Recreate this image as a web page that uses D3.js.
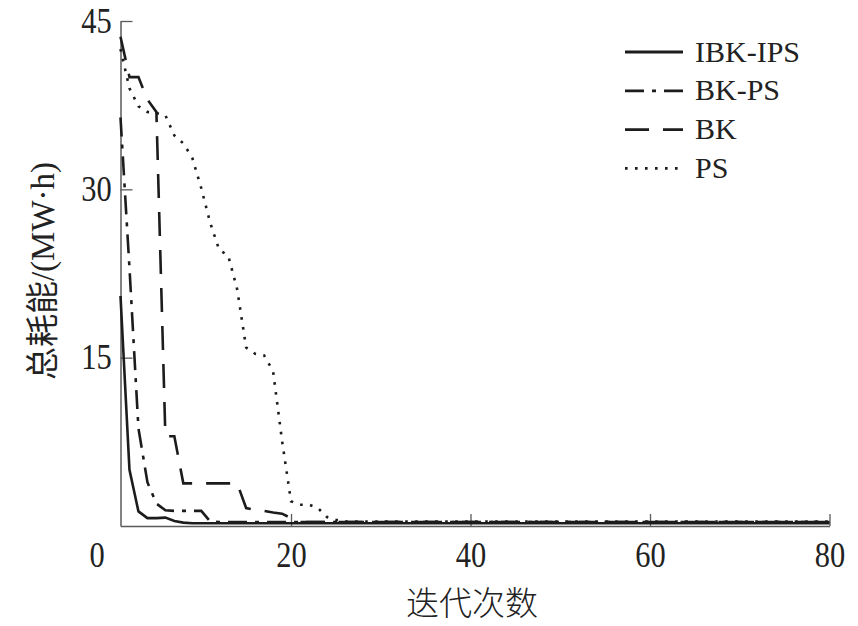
<!DOCTYPE html>
<html><head><meta charset="utf-8">
<script src="https://cdn.jsdelivr.net/npm/d3@7"></script>
<style>
html,body{margin:0;padding:0;background:#fff;}
svg{display:block;}
text{font-family:"Liberation Serif","Noto Sans CJK SC",serif;fill:#222;}
</style></head><body>
<svg id="chart" width="858" height="626"></svg>
<script>
// ---- data ----
const iterations = [1,2,3,4,5,6,7,8,9,10,11,12,13,14,15,16,17,18,19,20,21,22,23,24,25,26,80];
const seriesNames = ["IBK-IPS","BK-PS","BK","PS"];
const ibkIps = [20.5,5.0,1.3,0.7,0.7,0.75,0.45,0.3,0.25,0.25,0.25,0.25,0.25,0.25,0.25,0.25,0.25,0.25,0.25,0.25,0.25,0.25,0.25,0.25,0.25,0.25,0.25];
const bkPs   = [36.4,23.0,8.7,3.9,2.0,1.4,1.35,1.35,1.35,1.35,0.4,0.35,0.35,0.35,0.35,0.35,0.35,0.35,0.35,0.35,0.35,0.35,0.35,0.35,0.35,0.35,0.35];
const bk     = [43.6,40.0,40.0,38.0,36.9,8.0,8.0,3.8,3.8,3.8,3.8,3.8,3.8,3.8,1.6,1.45,1.35,1.2,1.1,0.7,0.35,0.35,0.35,0.35,0.35,0.35,0.35];
const ps     = [42.5,39.0,37.4,36.9,36.8,36.6,34.8,34.1,32.8,30.1,27.0,24.6,24.1,21.1,15.9,15.35,15.2,13.8,7.6,2.2,1.9,1.9,1.6,0.8,0.55,0.4,0.4];
const xTicks = [20,40,60,80];
const yTicks = [15,30,45];
const originLabel = "0";
const xTitle = "迭代次数";
const yTitle = "总耗能/(MW·h)";

// ---- styles ----
const seriesValues = [ibkIps, bkPs, bk, ps];
const dashes = [null, "19,8,4,8", "24,14", "2.6,7.4"];
const lineColor = "#1c1c1c";
const axisColor = "#5a5a5a";

const svg = d3.select("#chart");
const x = d3.scaleLinear().domain([1, 80]).range([120.5, 829.5]);
const y = d3.scaleLinear().domain([0, 45]).range([526, 21]);

// axes
const gx = svg.append("g").attr("transform", `translate(0,${y(0)})`)
  .call(d3.axisBottom(x).tickValues(xTicks).tickSizeInner(-12).tickSizeOuter(0).tickPadding(16).tickFormat(d3.format("d")));
const gy = svg.append("g").attr("transform", `translate(${x(1)},0)`)
  .call(d3.axisLeft(y).tickValues(yTicks).tickSizeInner(-12).tickSizeOuter(0).tickPadding(10).tickFormat(d3.format("d")));

[gx, gy].forEach(g => {
  g.attr("font-size", null).attr("font-family", null);
  g.select(".domain").attr("stroke", axisColor).attr("stroke-width", 1.5);
  g.selectAll(".tick line").attr("stroke", axisColor).attr("stroke-width", 1.3);
  g.selectAll(".tick text").attr("fill", "#222").style("font-size", "35px")
    .attr("transform", "scale(0.87,1)");
});

// origin label shared by both axes
svg.append("text").attr("x", 97).attr("y", y(0) + 41)
  .attr("text-anchor", "middle").style("font-size", "35px")
  .attr("transform", `translate(${97*0.13},0) scale(0.87,1)`)
  .text(originLabel);

// lines
const line = d3.line().x((d, i) => x(iterations[i])).y(d => y(d));
const order = [3, 2, 1, 0];
order.forEach(k => {
  svg.append("path").datum(seriesValues[k])
    .attr("d", line)
    .attr("fill", "none")
    .attr("stroke", lineColor)
    .attr("stroke-width", 2.6)
    .attr("stroke-dasharray", dashes[k]);
});

// legend
const legend = svg.append("g");
seriesNames.forEach((name, i) => {
  const cy = 52 + i * 38.8;
  legend.append("line").attr("x1", 625).attr("x2", 683).attr("y1", cy).attr("y2", cy)
    .attr("stroke", lineColor).attr("stroke-width", 2.8)
    .attr("stroke-dasharray", dashes[i]);
  legend.append("text").attr("x", 695).attr("y", cy + 9.5)
    .style("font-size", "30px").text(name);
});

// titles
svg.append("text").attr("x", 472).attr("y", 615).attr("text-anchor", "middle")
  .style("font-size", "33px").style("font-family", "'Noto Sans CJK SC'").style("font-weight", 300)
  .text(xTitle);
svg.append("text").attr("transform", "translate(54,271) rotate(-90)").attr("text-anchor", "middle")
  .style("font-size", "33px")
  .text(yTitle);
</script>
</body></html>
